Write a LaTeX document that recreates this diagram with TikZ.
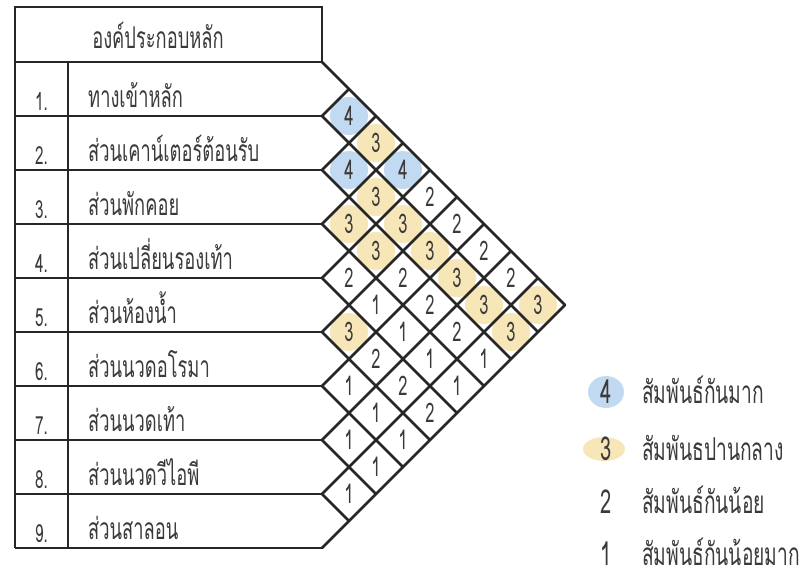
\documentclass[tikz,border=0pt]{standalone}
\usepackage{fontspec}
\setmainfont[Script=Thai, FakeStretch=0.61]{Loma}
\usetikzlibrary{positioning}
\definecolor{relblue}{HTML}{C2DAF1}
\definecolor{relyellow}{HTML}{F6E6B8}
\definecolor{gridline}{HTML}{262626}
\definecolor{numgray}{HTML}{3A3A3A}
\tikzset{
  % linee della tabella e della griglia
  tabline/.style={draw=gridline, line width=2.6pt},
  gridln/.style={draw=gridline, line width=2.6pt, line cap=round},
  % testi della tabella
  rowlbl/.style={anchor=base west, inner sep=0pt, text=numgray,
    font=\fontsize{30}{32}\selectfont},
  rownum/.style={anchor=base, inner sep=0pt, text=numgray,
    font=\fontsize{25}{28}\selectfont},
  % valori nelle celle
  cellval/.style={inner sep=0pt, text=numgray, font=\fontsize{27}{30}\selectfont},
  % sfondo dei valori
  blob1/.style={fill=none},
  blob2/.style={fill=none},
  blob3/.style={fill=relyellow},
  blob4/.style={fill=relblue},
  % legenda
  legnum/.style={inner sep=0pt, text=numgray, font=\fontsize{33}{36}\selectfont},
  legtxt/.style={anchor=base west, inner sep=0pt, text=numgray,
    font=\fontsize{31.5}{34}\selectfont},
}

\begin{document}
\begin{tikzpicture}[x=1pt, y=-1pt]
  \useasboundingbox (0,0) rectangle (801,581);
  \foreach \k in {0,...,9} {
    \coordinate (l\k) at (15, {62+54*\k});
    \coordinate (b\k) at (322, {62+54*\k});
    \coordinate (lo\k) at ({565-27*\k}, {305+27*\k});
    \coordinate (up\k) at ({322+27*\k}, {62+27*\k});
  }
  \foreach \i/\j/\v in {1/2/4, 1/3/3, 1/4/4, 1/5/2, 1/6/2, 1/7/2, 1/8/2, 1/9/3,
      2/3/4, 2/4/3, 2/5/3, 2/6/3, 2/7/3, 2/8/3, 2/9/3,
      3/4/3, 3/5/3, 3/6/2, 3/7/2, 3/8/2, 3/9/1,
      4/5/2, 4/6/1, 4/7/1, 4/8/1, 4/9/1,
      5/6/3, 5/7/2, 5/8/2, 5/9/2,
      6/7/1, 6/8/1, 6/9/1,
      7/8/1, 7/9/1,
      8/9/1} {
    \path[blob\v] ({322+27*(\j-\i)}, {62+27*(\i+\j-1)}) circle (19);
    \node[cellval] (c\i\j) at ({322+27*(\j-\i)}, {62+27*(\i+\j-1)}) {\v};
  }
  \draw[tabline] (15,7) rectangle (322,62);
  \draw[tabline] (l0) -- (l9);
  \draw[tabline] (68,62) -- (68,548);
  \foreach \k in {1,...,9} \draw[tabline] (l\k) -- (b\k);
  \foreach \k in {0,...,8} \draw[gridln] (b\k) -- (lo\k);
  \foreach \k in {1,...,9} \draw[gridln] (b\k) -- (up\k);
  \node[anchor=base, inner sep=0pt, text=numgray, font=\fontsize{30}{32}\selectfont]
    (hdr) at (158,48) {องค์ประกอบหลัก};
  \foreach \i/\t in {1/ทางเข้าหลัก, 2/ส่วนเคาน์เตอร์ต้อนรับ, 3/ส่วนพักคอย,
      4/ส่วนเปลี่ยนรองเท้า, 5/ส่วนห้องน้ำ, 6/ส่วนนวดอโรมา, 7/ส่วนนวดเท้า,
      8/ส่วนนวดวีไอพี, 9/ส่วนสาลอน} {
    \node[rownum] (n\i) at (41.5, {35+54*\i+21}) {\i.};
    \node[rowlbl] (r\i) at (88, {35+54*\i+18}) {\t};
  }
  \fill[relblue] (606,392) ellipse (18 and 16);
  \fill[relyellow] (604,449) ellipse (21 and 12);
  \foreach \v/\y/\t in {4/392/สัมพันธ์กันมาก, 3/449/สัมพันธปานกลาง,
      2/502/สัมพันธ์กันน้อย, 1/554/สัมพันธ์กันน้อยมาก} {
    \node[legnum] (k\v) at (606,\y) {\v};
    \node[legtxt] (t\v) at (642,{\y+11}) {\t};
  }
\end{tikzpicture}
\end{document}
